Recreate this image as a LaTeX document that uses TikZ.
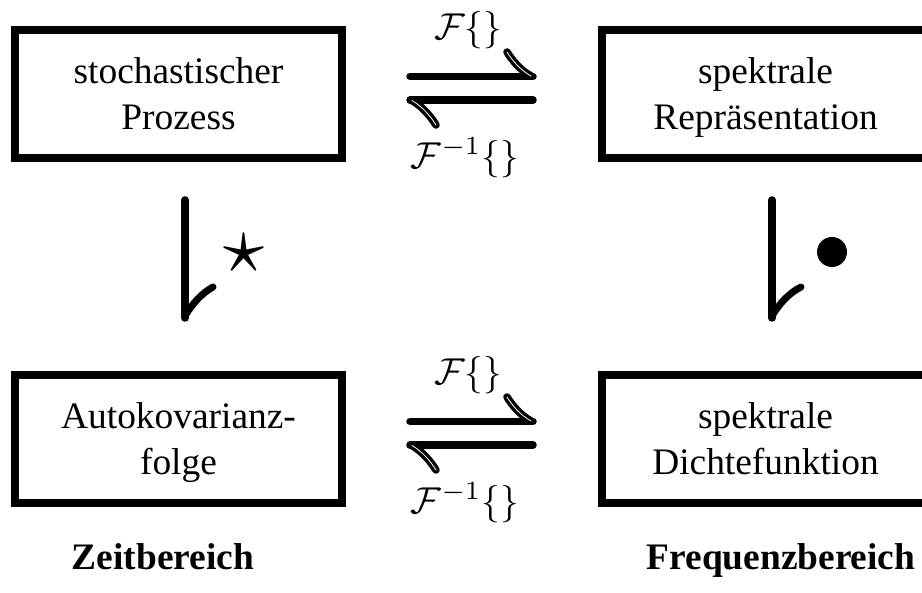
\documentclass[tikz,border=0pt]{standalone}
\usepackage{graphicx}
\usepackage{fontspec}
\setmainfont{Liberation Serif}
\newcommand{\topst}{\rule{0pt}{35.2pt}}
\newcommand{\botst}{\rule[-10.8pt]{0pt}{10.8pt}}
\begin{document}
\begin{tikzpicture}[x=1pt,y=-1pt,
  box/.style={draw, line width=8pt, minimum width=327pt, minimum height=128pt, inner sep=0pt, align=center, font=\fontsize{37.4}{46}\selectfont},
  conn/.style={line width=7.5pt, line cap=round},
  barb/.style={line width=3.4pt, double=white, double distance=0.8pt, line cap=round},
  vbarb/.style={line width=7pt, line cap=round},
  lbl/.style={inner sep=0pt},
  dom/.style={inner sep=0pt, anchor=base, font=\fontsize{37.4}{46}\selectfont\bfseries}]
\clip (0,0) rectangle (922,593);
\fill[white] (0,0) rectangle (922,593);
% boxes
\node[box] (tl) at (178.5,94) {\topst stochastischer\\\botst Prozess};
\node[box] (tr) at (765.5,94) {\topst spektrale\\\botst Repräsentation};
\node[box] (bl) at (178.5,439) {\topst Autokovarianz-\\\botst folge};
\node[box] (br) at (765.5,439) {\topst spektrale\\\botst Dichtefunktion};
% top harpoons
\coordinate (ta1) at (410,76.5);
\coordinate (tb1) at (533,76.5);
\coordinate (ta2) at (410,100);
\coordinate (tb2) at (533,100);
\draw[conn] (ta1) -- (tb1);
\draw[barb] (531,76) .. controls (520,70) and (512,60) .. (507,52);
\draw[conn] (tb2) -- (ta2);
\draw[barb] (412,100.5) .. controls (423,107) and (431,117) .. (436,125);
\node[lbl] (tf) at (468,30) {\scalebox{3.74}{$\mathcal{F}\{\}$}};
\node[lbl] (tfi) at (465,158) {\scalebox{3.74}{$\mathcal{F}^{-1}\{\}$}};
% bottom harpoons
\coordinate (ba1) at (410,421.5);
\coordinate (bb1) at (533,421.5);
\coordinate (ba2) at (410,445);
\coordinate (bb2) at (533,445);
\draw[conn] (ba1) -- (bb1);
\draw[barb] (531,421) .. controls (520,415) and (512,405) .. (507,397);
\draw[conn] (bb2) -- (ba2);
\draw[barb] (412,445.5) .. controls (423,452) and (431,462) .. (436,470);
\node[lbl] (bf) at (468,375) {\scalebox{3.74}{$\mathcal{F}\{\}$}};
\node[lbl] (bfi) at (465,503) {\scalebox{3.74}{$\mathcal{F}^{-1}\{\}$}};
% vertical harpoons
\coordinate (lv1) at (185,200);
\coordinate (lv2) at (185,318);
\draw[conn] (lv1) -- (lv2);
\draw[vbarb] (185,316) .. controls (192,304) and (202,293) .. (213,287);
\node[lbl] (star) at (244,253) {\scalebox{8.2}{$\star$}};
\coordinate (rv1) at (772,200);
\coordinate (rv2) at (772,318);
\draw[conn] (rv1) -- (rv2);
\draw[vbarb] (772,316) .. controls (779,304) and (789,293) .. (801,287);
\node[circle, fill, minimum size=30pt, inner sep=0pt] (dot) at (832,252) {};
% domain labels
\node[dom] (zb) at (163,570) {Zeitbereich};
\node[dom] (fb) at (781,570) {Frequenzbereich};
\end{tikzpicture}
\end{document}
